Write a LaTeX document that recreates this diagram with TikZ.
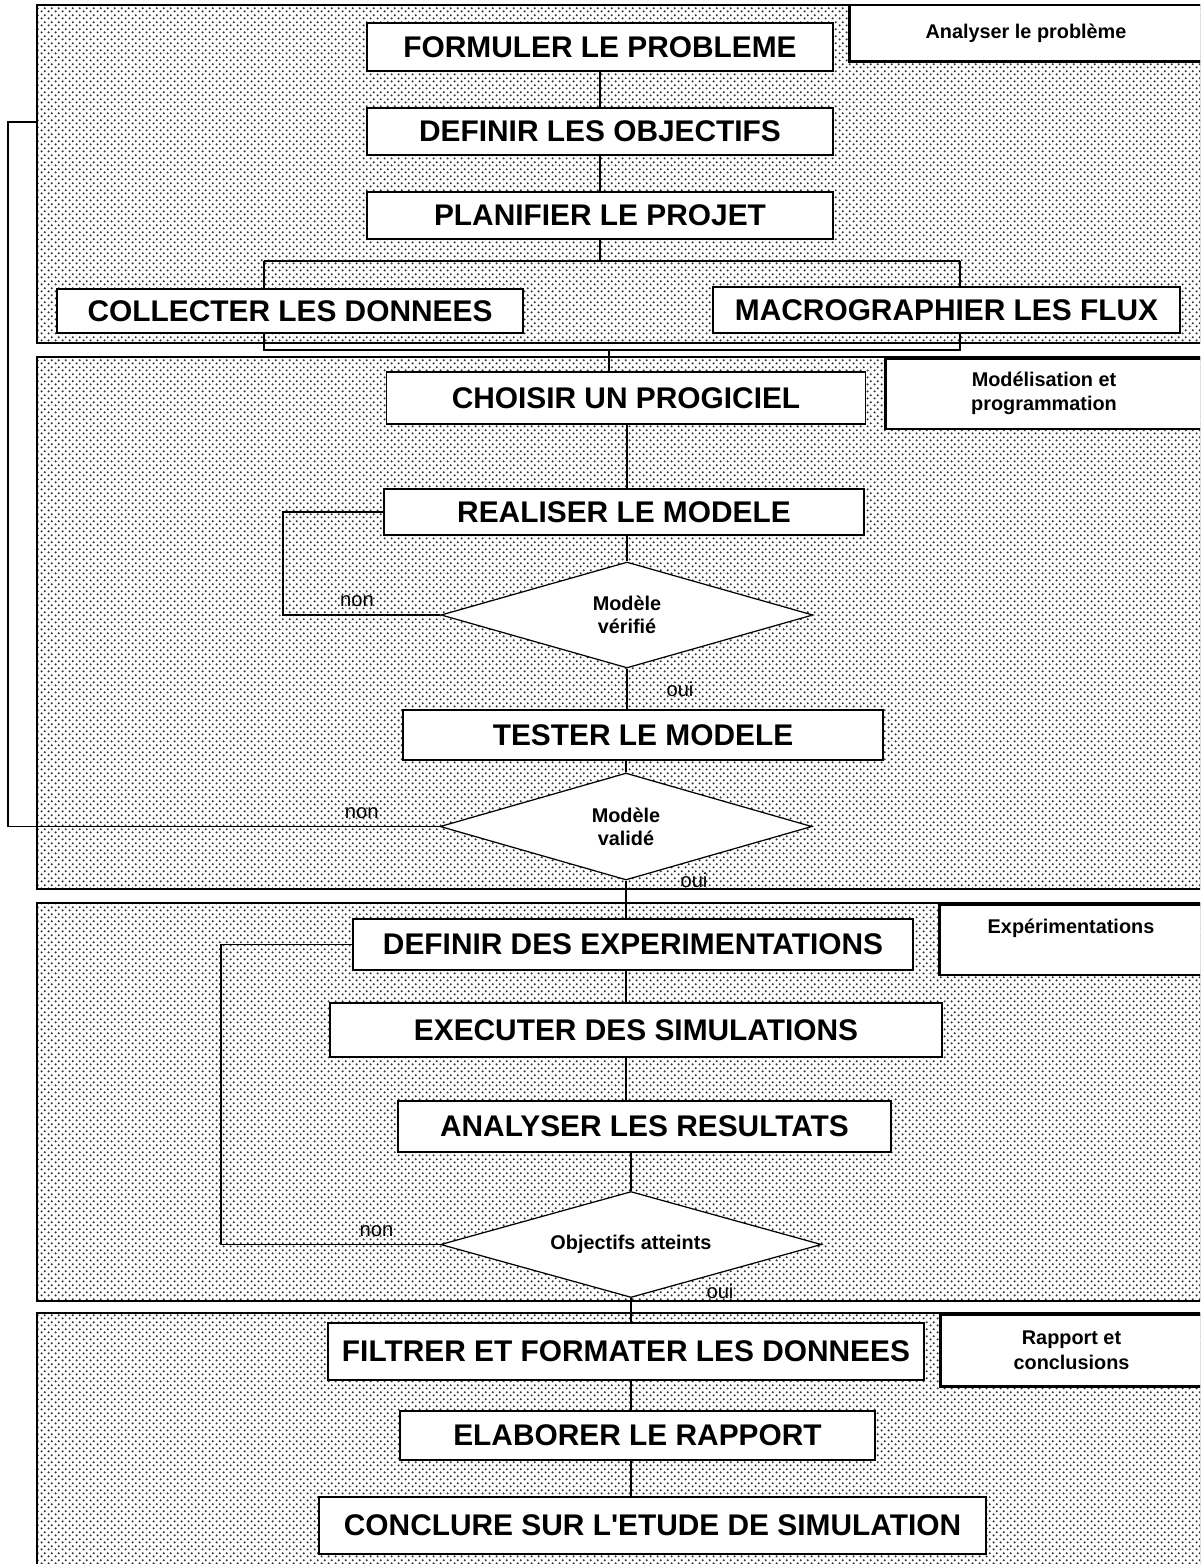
\documentclass[tikz,border=0pt]{standalone}
\usepackage{fontspec}
\setmainfont{Liberation Sans}
\usetikzlibrary{shapes.geometric, patterns}
\pgfdeclarepatternformonly{finedots}{\pgfpointorigin}{\pgfqpoint{3.8pt}{3.8pt}}{\pgfqpoint{3.8pt}{3.8pt}}{%
  \pgfpathcircle{\pgfqpoint{0.95pt}{0.95pt}}{0.7pt}%
  \pgfpathcircle{\pgfqpoint{2.85pt}{2.85pt}}{0.7pt}%
  \pgfusepath{fill}}

\begin{document}
\begin{tikzpicture}[x=0.02cm, y=-0.02cm,
        panel/.style={draw, line width=0.9pt, pattern=finedots, pattern color=black!80},
        task/.style={draw, rectangle, fill=white, line width=0.7pt, inner sep=0pt, font=\fontsize{17}{20}\selectfont\bfseries},
        phase/.style={draw, rectangle, fill=white, line width=1.7pt, inner sep=0pt, align=center, font=\fontsize{11.3}{14}\selectfont\bfseries},
        decision/.style={draw, diamond, aspect=3.5, fill=white, line width=0.7pt, inner sep=0pt, align=center, font=\fontsize{11.3}{13}\selectfont\bfseries},
        link/.style={line width=0.6pt},
        answer/.style={inner sep=0pt, font=\fontsize{11.5}{13}\selectfont}
    ]
    \useasboundingbox (0,0) rectangle (1200,1564);
    \clip (0,0) rectangle (1200,1564);
    \fill[white] (0,0) rectangle (1200,1564);

    % Phases
    \draw[panel] (37,5) rectangle (1201,343);
    \draw[panel] (37,357) rectangle (1201,889);
    \draw[panel] (37,903) rectangle (1201,1301);
    \draw[panel] (37,1313) rectangle (1201,1600);

    \node[phase, minimum width=7.08cm, minimum height=1.14cm] (analyse) at (1026,33.5) {Analyser le problème};
    \node[phase, minimum width=6.36cm, minimum height=1.42cm] (modelisation) at (1044,393.5) {Modélisation et\\programmation};
    \node[phase, minimum width=5.28cm, minimum height=1.42cm, text depth=15pt] (experiences) at (1071,939.5) {Expérimentations};
    \node[phase, minimum width=5.26cm, minimum height=1.44cm] (rapport) at (1071.5,1350) {Rapport et\\conclusions};

    % Analyser le probleme
    \node[task, minimum width=9.32cm, minimum height=0.96cm] (formuler) at (600,47) {FORMULER LE PROBLEME};
    \node[task, minimum width=9.32cm, minimum height=0.94cm] (objectifs) at (600,131.5) {DEFINIR LES OBJECTIFS};
    \node[task, minimum width=9.32cm, minimum height=0.94cm] (planifier) at (600,215.5) {PLANIFIER LE PROJET};
    \node[task, minimum width=9.32cm, minimum height=0.88cm] (collecter) at (290,311) {COLLECTER LES DONNEES};
    \node[task, minimum width=9.34cm, minimum height=0.92cm] (macro) at (946.5,310) {MACROGRAPHIER LES FLUX};

    % Modelisation et programmation
    \node[task, minimum width=9.58cm, minimum height=1.04cm] (choisir) at (626,398) {CHOISIR UN PROGICIEL};
    \node[task, minimum width=9.6cm, minimum height=0.92cm] (realiser) at (624,512) {REALISER LE MODELE};
    \node[decision, minimum width=7.44cm, minimum height=2.12cm] (verifie) at (627,615) {Modèle\\vérifié};
    \node[task, minimum width=9.6cm, minimum height=1.0cm] (tester) at (643,735) {TESTER LE MODELE};
    \node[decision, minimum width=7.44cm, minimum height=2.14cm] (valide) at (626,826.5) {Modèle\\validé};

    % Experimentations
    \node[task, minimum width=11.2cm, minimum height=1.02cm] (definir) at (633,944.5) {DEFINIR DES EXPERIMENTATIONS};
    \node[task, minimum width=12.24cm, minimum height=1.08cm] (executer) at (636,1030) {EXECUTER DES SIMULATIONS};
    \node[task, minimum width=9.86cm, minimum height=1.02cm] (analyser) at (644.5,1126.5) {ANALYSER LES RESULTATS};
    \node[decision, minimum width=7.62cm, minimum height=2.12cm] (atteints) at (631,1244.5) {Objectifs atteints};

    % Rapport et conclusions
    \node[task, minimum width=11.92cm, minimum height=1.14cm] (filtrer) at (626,1351.5) {FILTRER ET FORMATER LES DONNEES};
    \node[task, minimum width=9.5cm, minimum height=0.98cm] (elaborer) at (637.5,1435.5) {ELABORER LE RAPPORT};
    \node[task, minimum width=13.34cm, minimum height=1.14cm] (conclure) at (652.5,1525.5) {CONCLURE SUR L\textquotesingle ETUDE DE SIMULATION};

    \coordinate (splitTL) at (264,261);
    \coordinate (splitTR) at (960,261);
    \coordinate (splitBL) at (264,350);
    \coordinate (splitBR) at (960,350);
    \coordinate (join) at (609,350);
    \coordinate (loopA) at (283,615);
    \coordinate (backT) at (8,122);
    \coordinate (backE) at (37,122);
    \coordinate (loopC) at (221,1244.5);

    % Links
    \draw[link] (formuler) -- (objectifs);
    \draw[link] (objectifs) -- (planifier);
    \draw[link] (planifier) -- (planifier |- splitTL);
    \draw[link] (splitTL) -- (splitTR);
    \draw[link] (splitTL) -- (collecter.north -| splitTL);
    \draw[link] (splitTR) -- (macro.north -| splitTR);
    \draw[link] (collecter.south -| splitBL) -- (splitBL) -- (splitBR) -- (macro.south -| splitBR);
    \draw[link] (join) -- (join |- choisir.north);
    \draw[link] (choisir.south -| verifie) -- (realiser.north -| verifie);
    \draw[link] (realiser.south -| verifie) -- (verifie.north);
    \draw[link] (realiser.west) -- (realiser.west -| loopA) -- (loopA) -- node[answer, above=0.15cm, pos=0.47] {non} (verifie.west);
    \draw[link] (verifie.south) -- node[answer, right=0.78cm] {oui} (verifie.south |- tester.north);
    \draw[link] (tester.south -| valide) -- (valide.north);
    \draw[link] (valide.west) -- node[answer, above=0.15cm, pos=0.18] {non} (valide.west -| backT) -- (backT) -- (backE);
    \draw[link] (valide.south) -- node[answer, right=1.08cm, pos=0] {oui} (valide.south |- definir.north);
    \draw[link] (definir.south -| valide) -- (executer.north -| valide);
    \draw[link] (executer.south -| valide) -- (analyser.north -| valide);
    \draw[link] (analyser.south -| atteints) -- (atteints.north);
    \draw[link] (definir.west) -- (definir.west -| loopC) -- (loopC) -- node[answer, above=0.15cm, pos=0.71] {non} (atteints.west);
    \draw[link] (atteints.south) -- node[answer, right=1.5cm, pos=0, yshift=0.14cm] {oui} (atteints.south |- filtrer.north);
    \draw[link] (filtrer.south -| atteints) -- (elaborer.north -| atteints);
    \draw[link] (elaborer.south -| atteints) -- (conclure.north -| atteints);

\end{tikzpicture}
\end{document}
